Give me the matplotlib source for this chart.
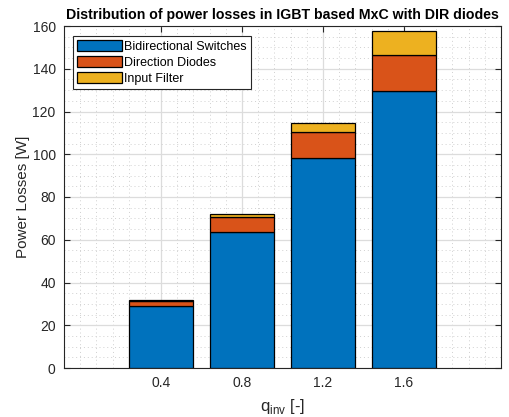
import matplotlib
matplotlib.use("Agg")
import matplotlib.pyplot as plt
from matplotlib.ticker import MultipleLocator, FixedLocator
import numpy as np

plt.rcParams['font.family'] = ['Liberation Sans', 'DejaVu Sans']
plt.rcParams['mathtext.fontset'] = 'custom'
plt.rcParams['mathtext.rm'] = 'Liberation Sans'

q_inv = [0.4, 0.8, 1.2, 1.6]
tick_labels = ['0.4', '0.8', '1.2', '1.6']
bidirectional_switches = [29.0, 63.6, 98.1, 129.6]
direction_diodes = [2.5, 7.2, 12.2, 16.8]
input_filter = [0.3, 1.2, 4.5, 11.4]
series_names = ['Bidirectional Switches', 'Direction Diodes', 'Input Filter']
colors = ['#0072BD', '#D95319', '#EDB120']

fig = plt.figure(figsize=(5.09, 4.17), dpi=100)
ax = fig.add_axes([64/509, 49/417, 437/509, 342/417])

bottom = np.zeros(len(q_inv))
for vals, name, c in zip([bidirectional_switches, direction_diodes, input_filter], series_names, colors):
    ax.bar(q_inv, vals, width=0.32, bottom=bottom, color=c, edgecolor='black',
           linewidth=0.9, label=name, zorder=3)
    bottom = bottom + np.array(vals)

ax.set_xlim(-0.08, 2.08)
ax.set_ylim(0, 160)
ax.xaxis.set_major_locator(FixedLocator(q_inv))
ax.set_xticklabels(tick_labels)
ax.xaxis.set_minor_locator(MultipleLocator(0.08))
ax.yaxis.set_major_locator(MultipleLocator(20))
ax.yaxis.set_minor_locator(MultipleLocator(5))

ax.grid(True, which='major', color='#dcdcdc', linewidth=0.9, linestyle='-', zorder=0)
ax.grid(True, which='minor', color='#d0d0d0', linewidth=0.7, linestyle=(0, (1, 3)), zorder=0)
ax.set_axisbelow(True)

ax.tick_params(which='major', direction='in', length=4, width=0.8, top=True, right=True,
               labelsize=10, colors='#262626', pad=6)
ax.tick_params(which='minor', length=0, top=True, right=True)
for s in ax.spines.values():
    s.set_color('#262626')
    s.set_linewidth(0.8)

ax.set_title('Distribution of power losses in IGBT based MxC with DIR diodes',
             fontsize=10.2, fontweight='bold', pad=5)
ax.set_ylabel('Power Losses [W]', fontsize=11, color='#262626', labelpad=2)
ax.set_xlabel(r'q$_{\mathregular{inv}}$ [-]', fontsize=12, color='#262626', labelpad=5)

leg = ax.legend(loc='upper left', bbox_to_anchor=(0.021, 0.97), fontsize=9,
                fancybox=False, framealpha=1, edgecolor='#262626',
                handlelength=3.6, handleheight=1.0, handletextpad=0.2,
                labelspacing=0.25, borderpad=0.3, borderaxespad=0)
leg.get_frame().set_linewidth(0.8)

fig.savefig('out.png', dpi=100)
